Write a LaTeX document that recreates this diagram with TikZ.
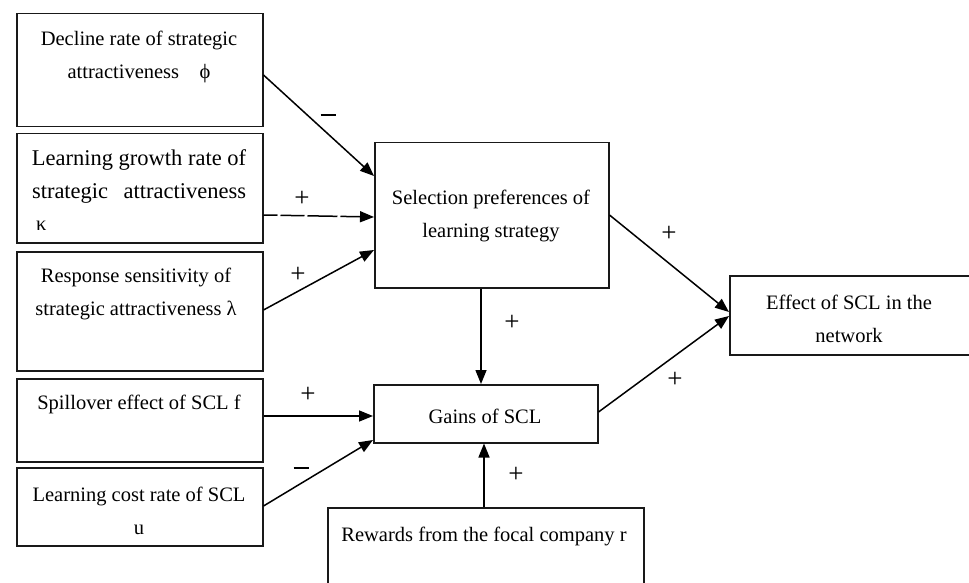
\documentclass[tikz,border=0pt]{standalone}
\usepackage{fontspec}
\setmainfont{Liberation Serif}
\usetikzlibrary{calc,arrows.meta}
\begin{document}
\begin{tikzpicture}[x=1pt,y=-1pt,
 box/.style={draw=black!90,line width=1.5pt,anchor=north west,inner sep=0pt},
 txt/.style={font=\fontsize{20.5}{33}\selectfont,align=center,inner sep=0pt,text=black},
 bigtxt/.style={font=\fontsize{22.5}{33}\selectfont,align=center,inner sep=0pt,text=black},
 lab/.style={font=\fontsize{27}{27}\selectfont,inner sep=0pt,text=black},
 minus/.style={inner sep=0pt,text=black},
 arr/.style={draw=black,line width=1.5pt,-{Triangle[length=14pt,width=11pt]}}]
\useasboundingbox (0,0) rectangle (969,583);
\fill[white] (0,0) rectangle (969,583);
% boxes
\node[box,minimum width=246pt,minimum height=113pt] (b1) at (16,13) {};
\node[box,minimum width=246pt,minimum height=109pt] (b2) at (16,133) {};
\node[box,minimum width=246pt,minimum height=119pt] (b3) at (16,251) {};
\node[box,minimum width=246pt,minimum height=83pt] (b4) at (16,378) {};
\node[box,minimum width=246pt,minimum height=78pt] (b5) at (16,467) {};
\node[box,minimum width=234pt,minimum height=145pt] (sel) at (374,142) {};
\node[box,minimum width=224pt,minimum height=58pt] (gain) at (373,384) {};
\node[box,minimum width=270pt,minimum height=79pt] (eff) at (729,275) {};
\node[box,minimum width=316pt,minimum height=100pt] (rew) at (327,507) {};
% texts
\node[txt] (t1) at (139,57) {Decline rate of strategic\\attractiveness\quad ϕ};
\node[bigtxt] (t2) at (139,177) {Learning growth rate of\\\makebox[214pt][s]{strategic attractiveness}};
\node[txt,anchor=west] (t2k) at (36,226) {κ};
\node[txt] (t3) at (136,294) {Response sensitivity of\\strategic attractiveness λ};
\node[txt] (t4) at (139,404) {Spillover effect of SCL f};
\node[txt] (t5) at (139,511) {Learning cost rate of SCL\\u};
\node[txt] (ts) at (491,216) {Selection preferences of\\learning strategy};
\node[txt] (tg) at (485,416) {Gains of SCL};
\node[txt] (te) at (849,319) {Effect of SCL in the\\network};
\node[txt] (tr) at (484,536) {Rewards from the focal company r};
% labels
\node[minus] (l1) at (328,115) {\rule{15pt}{1.6pt}};
\node[lab] (l2) at (302,199) {+};
\node[lab] (l3) at (298,275) {+};
\node[lab] (l4) at (308,395) {+};
\node[minus] (l5) at (301,468) {\rule{15pt}{1.6pt}};
\node[lab] (l6) at (512,323) {+};
\node[lab] (l7) at (669,234) {+};
\node[lab] (l8) at (675,380) {+};
\node[lab] (l9) at (516,475) {+};
% connectors
\draw[arr] ($(b1.north east)+(0,62)$) -- ($(sel.north west)+(0,34)$);
\draw[arr,dash pattern=on 14pt off 3pt on 24pt off 3pt on 30pt off 3pt on 60pt] ($(b2.north east)+(0,82)$) -- ($(sel.north west)+(0,75)$);
\draw[arr] ($(b3.north east)+(0,59)$) -- ($(sel.north west)+(0,108)$);
\draw[arr] ($(b4.north east)+(0,38)$) -- ($(gain.north west)+(0,32)$);
\draw[arr] ($(b5.north east)+(0,39)$) -- ($(gain.north west)+(0,56)$);
\draw[arr] ($(sel.south west)+(107,0)$) -- ($(gain.north west)+(108,0)$);
\draw[arr] ($(rew.north west)+(157,0)$) -- ($(gain.south west)+(111,0)$);
\draw[arr] ($(sel.north east)+(0,73)$) -- ($(eff.north west)+(0,37)$);
\draw[arr] ($(gain.north east)+(0,28)$) -- ($(eff.north west)+(0,41)$);
\end{tikzpicture}
\end{document}
